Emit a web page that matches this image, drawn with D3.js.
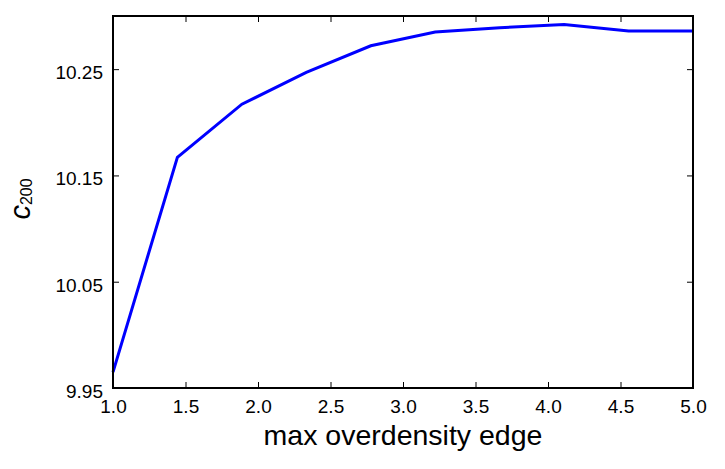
<!DOCTYPE html>
<html>
<head>
<meta charset="utf-8">
<style>
  body { margin: 0; background: #fff; }
  svg { display: block; font-family: "Liberation Sans", Arial, sans-serif; }
</style>
<script src="https://d3js.org/d3.v7.min.js"></script>
</head>
<body>
<svg width="725" height="469"></svg>
<script>
var edge = [1.0, 1.444, 1.889, 2.333, 2.778, 3.222, 3.667, 4.111, 4.556, 5.0];
var c200 = [9.965, 10.167, 10.217, 10.247, 10.272, 10.285, 10.289, 10.292, 10.286, 10.286];
var xTicks = [1.0, 1.5, 2.0, 2.5, 3.0, 3.5, 4.0, 4.5, 5.0];
var yTicks = [9.95, 10.05, 10.15, 10.25];

var svg = d3.select("svg"),
    margin = {top: 16, right: 32, bottom: 81, left: 113},
    width = 725 - margin.left - margin.right,
    height = 469 - margin.top - margin.bottom,
    g = svg.append("g").attr("transform", "translate(" + margin.left + "," + margin.top + ")");

var x = d3.scaleLinear().domain([1, 5]).range([0, width]);
var y = d3.scaleLinear().domain([9.95, 10.30]).range([height, 0]);

var data = edge.map(function(d, i) { return {x: d, y: c200[i]}; });

var line = d3.line()
    .x(function(d) { return x(d.x); })
    .y(function(d) { return y(d.y); });

g.append("path")
    .datum(data)
    .attr("fill", "none")
    .attr("stroke", "#0000ff")
    .attr("stroke-width", 3)
    .attr("stroke-linejoin", "miter")
    .attr("d", line);

// ticks inside, on all four sides
function style(sel) {
  sel.select(".domain").remove();
  sel.selectAll("line").attr("stroke", "#000").attr("stroke-width", 1);
  sel.selectAll("text").attr("fill", "#000").style("font-size", "19px");
}

g.append("g")
    .attr("transform", "translate(0," + height + ")")
    .call(d3.axisBottom(x).tickValues(xTicks).tickFormat(d3.format(".1f")).tickSizeInner(-6).tickPadding(12))
    .call(style);

g.append("g")
    .call(d3.axisTop(x).tickValues(xTicks).tickSizeInner(-6).tickFormat(""))
    .call(style);

g.append("g")
    .call(d3.axisLeft(y).tickValues(yTicks).tickFormat(d3.format(".2f")).tickSizeInner(-6).tickPadding(10))
    .call(style)
    .selectAll("text").attr("dy", "0.5em");

g.append("g")
    .attr("transform", "translate(" + width + ",0)")
    .call(d3.axisRight(y).tickValues(yTicks).tickSizeInner(-6).tickFormat(""))
    .call(style);

g.append("rect")
    .attr("width", width)
    .attr("height", height)
    .attr("fill", "none")
    .attr("stroke", "#000")
    .attr("stroke-width", 2);

svg.append("text")
    .attr("x", margin.left + width / 2)
    .attr("y", 445)
    .attr("text-anchor", "middle")
    .style("font-size", "28.5px")
    .text("max overdensity edge");

var yl = svg.append("text")
    .attr("transform", "translate(30,199) rotate(-90)")
    .attr("text-anchor", "middle");
yl.append("tspan").style("font-size", "29px").style("font-style", "italic").text("c");
yl.append("tspan").style("font-size", "16px").attr("dy", 2).text("200");
</script>
</body>
</html>
